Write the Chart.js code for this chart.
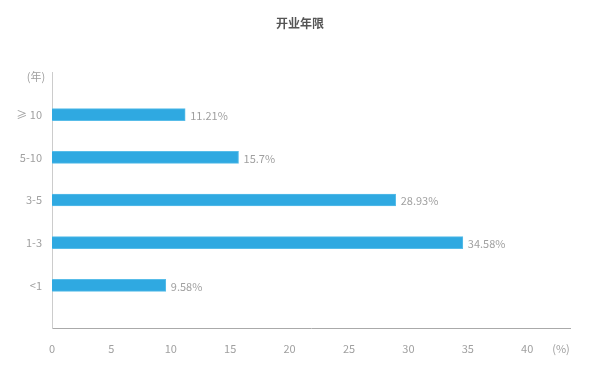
<!DOCTYPE html>
<html>
<head>
<meta charset="utf-8">
<script src="https://cdn.jsdelivr.net/npm/chart.js@4/dist/chart.umd.min.js"></script>
<style>
  html, body { margin: 0; padding: 0; background: #fff; }
  #wrap { width: 600px; height: 372px; }
</style>
</head>
<body>
<div id="wrap"><canvas id="yearsChart"></canvas></div>
<script>
// categories top to bottom, with empty slots at both ends
const categories = ["", "≥ 10", "5-10", "3-5", "1-3", "<1", ""];
const shares = [null, 11.21, 15.7, 28.93, 34.58, 9.58, null];
const shareLabels = ["", "11.21%", "15.7%", "28.93%", "34.58%", "9.58%", ""];
const xTicks = [0, 5, 10, 15, 20, 25, 30, 35, 40];
const chartTitle = "开业年限";

const font = "'Noto Sans CJK SC', 'Noto Sans', sans-serif";

const extraText = {
    id: "extraText",
    afterDraw(chart) {
        const ctx = chart.ctx;
        const area = chart.chartArea;
        ctx.save();

        // title centred on the whole canvas
        ctx.font = "bold 12px " + font;
        ctx.fillStyle = "#555";
        ctx.textAlign = "center";
        ctx.textBaseline = "middle";
        ctx.fillText(chartTitle, chart.width / 2, 23);

        ctx.font = "11px " + font;
        ctx.fillStyle = "#a0a0a0";

        // value labels at bar ends
        const meta = chart.getDatasetMeta(0);
        meta.data.forEach(function (bar, i) {
            if (shares[i] == null) return;
            ctx.textAlign = "left";
            ctx.fillText(shareLabels[i], bar.x + 5, bar.y + 1);
        });

        // axis names
        ctx.textAlign = "center";
        ctx.fillText("(年)", area.left - 16, area.top + 5);
        ctx.fillText("(%)", area.right - 9, area.bottom + 21);
        ctx.restore();
    }
};

new Chart(document.getElementById("yearsChart"), {
    type: "bar",
    data: {
        labels: categories,
        datasets: [{
            data: shares,
            backgroundColor: "#2fa9e1",
            borderColor: "#58bde9",
            borderWidth: 1,
            barThickness: 12
        }]
    },
    options: {
        indexAxis: "y",
        responsive: true,
        maintainAspectRatio: false,
        animation: false,
        layout: { padding: { left: 0, right: 30, top: 72, bottom: 0 } },
        plugins: {
            legend: { display: false },
            tooltip: { enabled: false },
            title: { display: false }
        },
        scales: {
            x: {
                type: "linear",
                min: 0,
                max: 43.6,
                afterBuildTicks(scale) {
                    scale.ticks = xTicks.map(v => ({ value: v }));
                },
                afterFit(scale) { scale.height = 44; },
                grid: { display: false, drawTicks: false },
                border: { color: "#aaa", width: 1 },
                ticks: {
                    color: "#a0a0a0",
                    padding: 14,
                    font: { family: font, size: 11 }
                }
            },
            y: {
                offset: false,
                afterFit(scale) { scale.width = 52; },
                grid: { display: false, drawTicks: false },
                border: { color: "#ccc", width: 1 },
                ticks: {
                    color: "#a0a0a0",
                    padding: 10,
                    font: { family: font, size: 11 }
                }
            }
        }
    },
    plugins: [extraText]
});
</script>
</body>
</html>
